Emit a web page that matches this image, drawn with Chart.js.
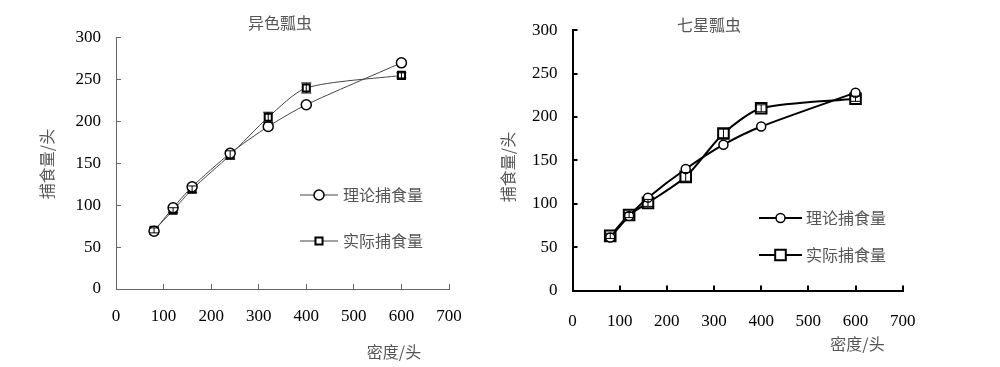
<!DOCTYPE html>
<html>
<head>
<meta charset="utf-8">
<script src="https://cdn.jsdelivr.net/npm/chart.js@4/dist/chart.umd.min.js"></script>
<style>
  html, body { margin:0; padding:0; background:#fff; }
  #wrap { position:relative; width:1000px; height:367px; overflow:hidden; }
  canvas { position:absolute; top:0; }
</style>
</head>
<body>
<div id="wrap">
  <canvas id="c1" width="500" height="367" style="left:0"></canvas>
  <canvas id="c2" width="500" height="367" style="left:500px"></canvas>
</div>
<script>
// ---- data ----
const density = [80, 120, 160, 240, 320, 400, 600];
const xTicks = [0, 100, 200, 300, 400, 500, 600, 700];
const yTicks = [0, 50, 100, 150, 200, 250, 300];
const seriesNames = ['理论捕食量', '实际捕食量'];
const chartTitles = ['异色瓢虫', '七星瓢虫'];
const xAxisTitle = '密度/头';
const yAxisTitle = '捕食量/头';
// 异色瓢虫
const ysTheory = [69, 97, 122, 162, 194, 220, 270];
const ysActual = [70, 94, 119, 160, 205, 240, 255];
const ysActualErr = [3, 3, 4, 5, 6, 6, 3];
// 七星瓢虫
const qxTheory = [61, 86, 107, 140, 168, 189, 228];
const qxActual = [63, 87, 101, 131, 181, 210, 221];
const qxActualErr = [3, 3, 4, 5, 5, 4, 3];

const pts = (xs, ys) => xs.map((x, i) => ({x: x, y: ys[i]}));
const CJK = '"Noto Sans CJK SC", sans-serif';

// error bars + texts + legend
const extras = {
  id: 'extras',
  afterDatasetsDraw(chart, args, o) {
    const ctx = chart.ctx, xs = chart.scales.x, ys = chart.scales.y;
    ctx.save();
    (o.errors || []).forEach(e => {
      const ds = chart.data.datasets[e.ds];
      ctx.strokeStyle = e.color; ctx.lineWidth = e.width;
      ds.data.forEach((p, i) => {
        const err = e.values[i];
        const px = xs.getPixelForValue(p.x);
        const top = ys.getPixelForValue(p.y + err), bot = ys.getPixelForValue(p.y - err);
        ctx.beginPath();
        ctx.moveTo(px, top); ctx.lineTo(px, bot);
        ctx.moveTo(px - e.cap, top); ctx.lineTo(px + e.cap, top);
        ctx.moveTo(px - e.cap, bot); ctx.lineTo(px + e.cap, bot);
        ctx.stroke();
      });
    });
    ctx.restore();
  },
  afterDraw(chart, args, o) {
    const ctx = chart.ctx;
    ctx.save();
    ctx.fillStyle = o.textColor;
    ctx.font = o.font;
    ctx.textBaseline = 'middle';
    ctx.textAlign = 'center';
    ctx.fillText(o.title.text, o.title.x, o.title.y);
    ctx.fillText(o.xTitle.text, o.xTitle.x, o.xTitle.y);
    ctx.save();
    ctx.translate(o.yTitle.x, o.yTitle.y);
    ctx.rotate(-Math.PI / 2);
    ctx.fillText(o.yTitle.text, 0, 0);
    ctx.restore();
    // legend
    o.legend.forEach((L, i) => {
      const ds = chart.data.datasets[i];
      ctx.strokeStyle = ds.borderColor;
      ctx.lineWidth = ds.borderWidth;
      ctx.beginPath();
      ctx.moveTo(L.x1, L.y); ctx.lineTo(L.x2, L.y); ctx.stroke();
      const mx = (L.x1 + L.x2) / 2;
      ctx.fillStyle = '#fff';
      ctx.strokeStyle = ds.pointBorderColor;
      ctx.lineWidth = ds.pointBorderWidth;
      ctx.beginPath();
      if (ds.pointStyle === 'circle') {
        ctx.arc(mx, L.y, ds.pointRadius, 0, Math.PI * 2);
      } else {
        const s = ds.pointRadius * Math.SQRT1_2;
        ctx.rect(mx - s, L.y - s, 2 * s, 2 * s);
      }
      ctx.fill(); ctx.stroke();
      ctx.fillStyle = o.textColor;
      ctx.textAlign = 'left';
      ctx.fillText(ds.label, L.tx, L.y);
    });
    ctx.restore();
  }
};

function makeChart(id, theory, actual, err, st) {
  return new Chart(document.getElementById(id), {
    type: 'line',
    data: {
      datasets: [
        {
          label: seriesNames[0], data: pts(density, theory),
          borderColor: st.line, borderWidth: st.lw, tension: 0.25,
          pointStyle: 'circle', pointRadius: st.cr, pointBorderWidth: st.cbw,
          pointBorderColor: '#000', pointBackgroundColor: '#fff', fill: false
        },
        {
          label: seriesNames[1], data: pts(density, actual),
          borderColor: st.line, borderWidth: st.lw, tension: 0.25,
          pointStyle: 'rect', pointRadius: st.sr, pointBorderWidth: st.sbw,
          pointBorderColor: '#000', pointBackgroundColor: '#fff', fill: false
        }
      ]
    },
    options: {
      responsive: false, animation: false, devicePixelRatio: 1,
      layout: { padding: st.pad },
      plugins: {
        legend: { display: false }, tooltip: { enabled: false },
        extras: {
          font: '16px ' + CJK, textColor: '#555',
          title: st.title, xTitle: st.xTitle, yTitle: st.yTitle, legend: st.legend,
          errors: [{ ds: 1, values: err, cap: st.cap, color: '#000', width: 1 }]
        }
      },
      scales: {
        x: {
          type: 'linear', min: 0, max: 700,
          afterBuildTicks: s => { s.ticks = xTicks.map(v => ({value: v})); },
          afterFit: s => { s.height = st.xh; },
          ticks: { font: { family: 'Liberation Serif', size: 17 }, color: '#000', padding: st.xpad, maxRotation: 0, autoSkip: false },
          grid: { drawOnChartArea: false, drawTicks: true, tickLength: -5, color: st.axis, lineWidth: st.aw },
          border: { display: true, color: st.axis, width: st.aw }
        },
        y: {
          min: 0, max: 300,
          afterBuildTicks: s => { s.ticks = yTicks.map(v => ({value: v})); },
          afterFit: s => { s.width = st.yw; },
          ticks: { font: { family: 'Liberation Serif', size: 17 }, color: '#000', padding: st.ypad, autoSkip: false },
          grid: { drawOnChartArea: false, drawTicks: true, tickLength: -5, color: st.axis, lineWidth: st.aw },
          border: { display: true, color: st.axis, width: st.aw }
        }
      }
    },
    plugins: [extras]
  });
}

makeChart('c1', ysTheory, ysActual, ysActualErr, {
  line: '#444', lw: 1, cr: 5, cbw: 1.5, sr: 5, sbw: 2, cap: 5,
  axis: '#666', aw: 1,
  pad: { left: 0, right: 51, top: 37.7, bottom: 0 },
  yw: 116, xh: 78, xpad: 22, ypad: 20,
  title: { text: chartTitles[0], x: 280, y: 23 },
  xTitle: { text: xAxisTitle, x: 394, y: 352 },
  yTitle: { text: yAxisTitle, x: 47, y: 164 },
  legend: [
    { x1: 300, x2: 338, y: 195, tx: 343 },
    { x1: 300, x2: 338, y: 241, tx: 343 }
  ]
});

makeChart('c2', qxTheory, qxActual, qxActualErr, {
  line: '#000', lw: 2, cr: 4.5, cbw: 1.5, sr: 7.5, sbw: 2, cap: 5,
  axis: '#000', aw: 2,
  pad: { left: 0, right: 97.3, top: 18.3, bottom: 0 },
  yw: 72.5, xh: 76.5, xpad: 26, ypad: 20,
  title: { text: chartTitles[1], x: 209, y: 25 },
  xTitle: { text: xAxisTitle, x: 357.5, y: 344 },
  yTitle: { text: yAxisTitle, x: 8, y: 167 },
  legend: [
    { x1: 259, x2: 302, y: 218, tx: 306 },
    { x1: 259, x2: 302, y: 255, tx: 306 }
  ]
});
</script>
</body>
</html>
